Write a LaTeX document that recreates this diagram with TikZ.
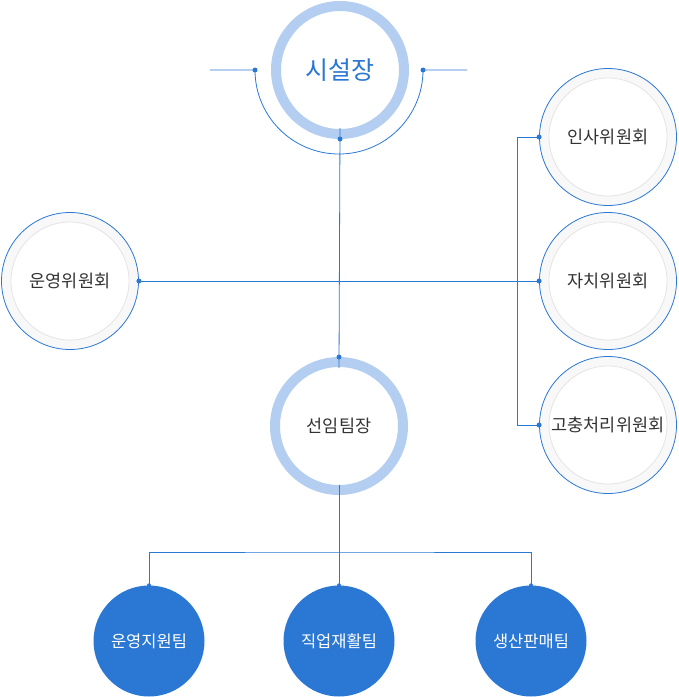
\documentclass[tikz,border=0pt]{standalone}
\usepackage{fontspec}
\newfontfamily\kr{Noto Sans CJK KR}
\definecolor{lineblue}{HTML}{2A77D4}
\definecolor{ringblue}{HTML}{B3CEF0}
\definecolor{ringgrey}{HTML}{F8F8F8}
\definecolor{edgegrey}{HTML}{E4E4E4}
\definecolor{textgrey}{HTML}{333333}
\tikzset{
  headring/.style={circle, draw=ringblue, line width=10pt, fill=white,
    minimum size=128pt, inner sep=0pt, font=\kr\fontsize{17.5}{17.5}\selectfont, text=textgrey},
  committee/.style={circle, draw=lineblue, line width=0.8pt, fill=ringgrey,
    minimum size=137pt, inner sep=0pt, font=\kr\fontsize{17.5}{17.5}\selectfont, text=textgrey,
    path picture={\draw[edgegrey, fill=white, line width=0.8pt]
      (path picture bounding box.center) circle (59pt);}},
  team/.style={circle, fill=lineblue, minimum size=111pt, inner sep=0pt,
    font=\kr\fontsize{16.5}{16.5}\selectfont, text=white},
  link/.style={lineblue, line width=0.8pt},
  dot/.style={fill=lineblue}
}
\begin{document}
\begin{tikzpicture}[x=1pt,y=-1pt]
  \useasboundingbox (0,0) rectangle (679,697);
  \draw
    (340,70) node[headring, font=\kr\fontsize{25}{25}\selectfont, text=lineblue] (ch){시설장}
    (339,426) node[headring] (lead){선임팀장}
    (70,281) node[committee] (opc){운영위원회}
    (608,137) node[committee] (hr){인사위원회}
    (608,281) node[committee] (self){자치위원회}
    (608,425) node[committee] (grv){고충처리위원회}
    (149,641) node[team] (ops){운영지원팀}
    (339,641) node[team] (voc){직업재활팀}
    (531,641) node[team] (sales){생산판매팀};
  \coordinate (al) at ([xshift=-85pt]ch.center);
  \coordinate (ar) at ([xshift=83pt]ch.center);
  \coordinate (bk) at ([xshift=-22pt]hr.west);
  \coordinate (bar) at (339,552);
  \begin{scope}[link]
    \draw ([xshift=-45pt]al) -- (al) arc[start angle=180, end angle=360, radius=84pt]
      -- ([xshift=44pt]ar);
    \draw ([yshift=11pt]ch.south) -- ([yshift=-11pt]lead.north);
    \draw (opc.east) -- (self.west);
    \draw (hr.west) -- (bk) |- (grv.west);
    \draw ([yshift=10pt]lead.south) -- (voc.north);
    \draw (ops.north) |- (bar) -| (sales.north);
  \end{scope}
  \begin{scope}[dot]
    \fill (al) circle (2.5pt);
    \fill (ar) circle (2.5pt);
    \fill (ch.south) circle (2.5pt);
    \fill (lead.north) circle (2.5pt);
    \fill (opc.east) circle (2.5pt);
    \fill (hr.west) circle (2.5pt);
    \fill (self.west) circle (2.5pt);
    \fill (grv.west) circle (2.5pt);
    \fill (ops.north) circle (2pt);
    \fill (voc.north) circle (2pt);
    \fill (sales.north) circle (2pt);
  \end{scope}
\end{tikzpicture}
\end{document}
